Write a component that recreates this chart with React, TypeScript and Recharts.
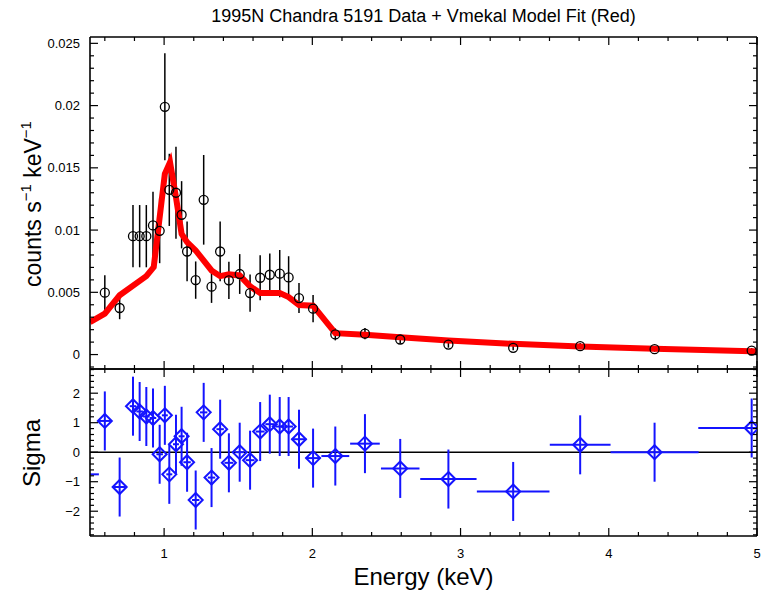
import {
  ComposedChart, Scatter, Line, XAxis, YAxis, ErrorBar, ReferenceLine,
} from 'recharts'

// binned spectrum (top panel)
const ENERGY = [
  0.6, 0.7, 0.79, 0.835, 0.88, 0.925, 0.97, 1.005, 1.035, 1.08, 1.118, 1.155,
  1.213, 1.267, 1.32, 1.378, 1.437, 1.51, 1.58, 1.648, 1.713, 1.78, 1.84, 1.91,
  2.005, 2.155, 2.355, 2.593, 2.918, 3.355, 3.807, 4.309, 4.964,
]
const RATE = [
  0.00497, 0.00374, 0.00951, 0.00951, 0.00951, 0.01037, 0.00994, 0.0199, 0.01323,
  0.0130, 0.01123, 0.00828, 0.00598, 0.01243, 0.00545, 0.00828, 0.00596, 0.00647,
  0.00494, 0.00617, 0.00641, 0.0065, 0.0062, 0.00454, 0.00369, 0.00162, 0.00168,
  0.00121, 0.0008, 0.00054, 0.00067, 0.00043, 0.00032,
]
const RATE_ERR = [
  0.0014, 0.0009, 0.0025, 0.0025, 0.0025, 0.0027, 0.0026, 0.0043, 0.0029, 0.0037,
  0.0027, 0.0024, 0.0015, 0.0036, 0.0013, 0.0024, 0.0015, 0.0016, 0.0015, 0.0018,
  0.0017, 0.0019, 0.0017, 0.0012, 0.0011, 0.00048, 0.00045, 0.00032, 0.00025,
  0.0002, 0.00025, 0.0002, 0.0002,
]

// vmekal model (red)
const MODEL_E = [
  0.5, 0.6, 0.7, 0.88, 0.93, 1.005, 1.04, 1.08, 1.118, 1.155, 1.213, 1.32, 1.378,
  1.437, 1.51, 1.58, 1.648, 1.78, 1.84, 1.91, 2.005, 2.155, 2.355, 2.593, 2.918,
  3.355, 3.807, 4.309, 4.964, 5.0,
]
const MODEL_RATE = [
  0.0026, 0.00329, 0.00476, 0.0063, 0.00703, 0.01452, 0.01545, 0.01264, 0.0097,
  0.00903, 0.00836, 0.00676, 0.0063, 0.00644, 0.00636, 0.00548, 0.00494, 0.00494,
  0.00462, 0.00398, 0.00393, 0.00172, 0.00159, 0.0014, 0.00113, 0.00086, 0.00064,
  0.00046, 0.00026, 0.00024,
]

// residuals (bottom panel); first bin sits just left of 0.5 keV
const SIGMA_E = [
  0.46, 0.6, 0.7, 0.79, 0.835, 0.88, 0.925, 0.97, 1.005, 1.035, 1.08, 1.118, 1.155,
  1.213, 1.267, 1.32, 1.378, 1.437, 1.51, 1.58, 1.648, 1.713, 1.78, 1.84, 1.91,
  2.005, 2.155, 2.355, 2.593, 2.918, 3.355, 3.807, 4.309, 4.964,
]
const SIGMA = [
  -0.75, 1.06, -1.18, 1.56, 1.38, 1.21, 1.16, -0.07, 1.25, -0.75, 0.27, 0.54, -0.34,
  -1.62, 1.35, -0.86, 0.78, -0.36, 0.0, -0.27, 0.7, 0.95, 0.87, 0.87, 0.44, -0.2,
  -0.13, 0.29, -0.55, -0.91, -1.33, 0.25, 0.0, 0.82,
]
const SIGMA_XERR = [
  0.1, 0.04, 0.04, 0.022, 0.022, 0.022, 0.022, 0.022, 0.02, 0.02, 0.02, 0.02, 0.025,
  0.025, 0.025, 0.025, 0.025, 0.03, 0.03, 0.03, 0.03, 0.03, 0.03, 0.03, 0.05, 0.05,
  0.094, 0.1, 0.13, 0.19, 0.245, 0.205, 0.297, 0.36,
]

const X_MAJOR = [1, 2, 3, 4, 5]
const RATE_MAJOR = [0, 0.005, 0.01, 0.015, 0.02, 0.025]
const SIGMA_MAJOR = [-2, -1, 0, 1, 2]

const X_DOMAIN: [number, number] = [0.5, 5]
const RATE_DOMAIN: [number, number] = [-0.00116, 0.02551]
const SIGMA_DOMAIN: [number, number] = [-2.84, 2.82]

const FONT = '"Liberation Sans", Arial, Helvetica, sans-serif'
const RED = '#ff0000'
const BLUE = '#1414ff'

const steps = (from: number, to: number, step: number) => {
  const out: number[] = []
  for (let i = 0; from + i * step <= to + step / 2; i++) out.push(Math.round((from + i * step) * 1e6) / 1e6)
  return out
}
const X_TICKS = steps(0.6, 5, 0.2)
const RATE_TICKS = steps(-0.001, 0.025, 0.001)
const SIGMA_TICKS = steps(-2.8, 2.8, 0.2)

const fmt = (v: number) => (v < 0 ? '\u2212' + String(-v) : String(v))

type Side = 'left' | 'right' | 'top' | 'bottom'

// IDL-style inward ticks, labels only on left / bottom
function axisTick(side: Side, majors: number[], showLabel: boolean) {
  return (props: any) => {
    const { x, y, payload } = props
    const v = payload.value as number
    const major = majors.find(m => Math.abs(m - v) < 1e-9)
    const len = major !== undefined ? 8 : 4
    let x2 = x
    let y2 = y
    if (side === 'left') x2 = x + len
    if (side === 'right') x2 = x - len
    if (side === 'top') y2 = y + len
    if (side === 'bottom') y2 = y - len
    const label = showLabel && major !== undefined ? fmt(major) : null
    return (
      <g>
        <line x1={x} y1={y} x2={x2} y2={y2} stroke="#000" strokeWidth={1.2} />
        {label && side === 'left' && (
          <text x={x - 10} y={y} textAnchor="end" dominantBaseline="central"
            fontFamily={FONT} fontSize={13} fill="#000">{label}</text>
        )}
        {label && side === 'bottom' && (
          <text x={x} y={y + 22} textAnchor="middle"
            fontFamily={FONT} fontSize={13} fill="#000">{label}</text>
        )}
      </g>
    )
  }
}

// marks outside the energy range are left undrawn (plot is clipped at 0.5 keV)
const inRange = (p: any) => p.payload && p.payload.x >= X_DOMAIN[0] && p.payload.x <= X_DOMAIN[1]

const circle = (p: any) => (inRange(p)
  ? <circle cx={p.cx} cy={p.cy} r={4.5} fill="none" stroke="#000" strokeWidth={1.3} />
  : <g />)
const diamond = (p: any) => (inRange(p)
  ? <path d={`M${p.cx},${p.cy - 7}L${p.cx + 7},${p.cy}L${p.cx},${p.cy + 7}L${p.cx - 7},${p.cy}Z`}
    fill="none" stroke={BLUE} strokeWidth={2} />
  : <g />)

const axisLine = { stroke: '#000', strokeWidth: 1.6 }
const common = { tickSize: 0, tickMargin: 0, tickLine: false, interval: 0 as const, axisLine }

// keep x error bars inside [0.5, 5]
const clipErr = (x: number, e: number): [number, number] => [
  Math.min(e, x - X_DOMAIN[0]), Math.min(e, X_DOMAIN[1] - x),
]

export default function App() {
  const rateData = ENERGY.map((x, i) => ({ x, y: RATE[i], err: RATE_ERR[i] }))
  const modelData = MODEL_E.map((x, i) => ({ x, y: MODEL_RATE[i] }))
  const sigmaData = SIGMA_E.map((x, i) => ({
    x, y: SIGMA[i],
    err: x < X_DOMAIN[0] ? 0 : 1,
    xerr: clipErr(x, SIGMA_XERR[i]),
  }))

  return (
    <div style={{ position: 'absolute', left: 0, top: 0, width: 764, height: 592, background: '#fff', fontFamily: FONT }}>
      <div style={{ position: 'absolute', left: 90, top: 6, width: 667, textAlign: 'center', fontSize: 18, lineHeight: '21px' }}>
        1995N Chandra 5191 Data + Vmekal Model Fit (Red)
      </div>

      <div style={{ position: 'absolute', left: 0, top: 0 }}>
        <ComposedChart width={764} height={379} margin={{ top: 36, right: 6, bottom: 9, left: 0 }}>
          <XAxis xAxisId="b" dataKey="x" type="number" domain={X_DOMAIN} allowDataOverflow
            ticks={X_TICKS} height={1} {...common} tick={axisTick('bottom', X_MAJOR, false)} />
          <XAxis xAxisId="t" orientation="top" dataKey="x" type="number" domain={X_DOMAIN} allowDataOverflow
            ticks={X_TICKS} height={1} {...common} tick={axisTick('top', X_MAJOR, false)} />
          <YAxis yAxisId="l" type="number" domain={RATE_DOMAIN} allowDataOverflow
            ticks={RATE_TICKS} width={90} {...common} tick={axisTick('left', RATE_MAJOR, true)} />
          <YAxis yAxisId="r" orientation="right" type="number" domain={RATE_DOMAIN} allowDataOverflow
            ticks={RATE_TICKS} width={1} {...common} tick={axisTick('right', RATE_MAJOR, false)} />
          <Scatter xAxisId="b" yAxisId="l" data={rateData} dataKey="y" shape={circle} isAnimationActive={false}>
            <ErrorBar dataKey="err" direction="y" width={0} stroke="#000" strokeWidth={1.5} isAnimationActive={false} />
          </Scatter>
          <Line xAxisId="b" yAxisId="l" data={modelData} dataKey="y" stroke={RED} strokeWidth={6}
            dot={false} activeDot={false} isAnimationActive={false} />
        </ComposedChart>
      </div>

      <div style={{ position: 'absolute', left: 0, top: 359 }}>
        <ComposedChart width={764} height={233} margin={{ top: 9, right: 6, bottom: 55, left: 0 }}>
          <XAxis xAxisId="b" dataKey="x" type="number" domain={X_DOMAIN} allowDataOverflow
            ticks={X_TICKS} height={1} {...common} tick={axisTick('bottom', X_MAJOR, true)} />
          <XAxis xAxisId="t" orientation="top" dataKey="x" type="number" domain={X_DOMAIN} allowDataOverflow
            ticks={X_TICKS} height={1} {...common} tick={axisTick('top', X_MAJOR, false)} />
          <YAxis yAxisId="l" type="number" domain={SIGMA_DOMAIN} allowDataOverflow
            ticks={SIGMA_TICKS} width={90} {...common} tick={axisTick('left', SIGMA_MAJOR, true)} />
          <YAxis yAxisId="r" orientation="right" type="number" domain={SIGMA_DOMAIN} allowDataOverflow
            ticks={SIGMA_TICKS} width={1} {...common} tick={axisTick('right', SIGMA_MAJOR, false)} />
          <ReferenceLine xAxisId="b" yAxisId="l" y={0} stroke="#000" strokeWidth={1.5} />
          <Scatter xAxisId="b" yAxisId="l" data={sigmaData} dataKey="y" shape={diamond} isAnimationActive={false}>
            <ErrorBar dataKey="err" direction="y" width={0} stroke={BLUE} strokeWidth={2} isAnimationActive={false} />
            <ErrorBar dataKey="xerr" direction="x" width={0} stroke={BLUE} strokeWidth={2} isAnimationActive={false} />
          </Scatter>
        </ComposedChart>
      </div>

      <div style={{
        position: 'absolute', left: 34, top: 204, transform: 'translate(-50%, -50%) rotate(-90deg)',
        fontSize: 23, whiteSpace: 'nowrap', lineHeight: '26px',
      }}>
        counts s<span style={{ fontSize: 15, position: 'relative', top: -10 }}>{'\u2212'}1</span> keV
        <span style={{ fontSize: 15, position: 'relative', top: -10 }}>{'\u2212'}1</span>
      </div>
      <div style={{
        position: 'absolute', left: 32, top: 453, transform: 'translate(-50%, -50%) rotate(-90deg)',
        fontSize: 24, whiteSpace: 'nowrap', lineHeight: '28px',
      }}>
        Sigma
      </div>
      <div style={{ position: 'absolute', left: 90, top: 563, width: 667, textAlign: 'center', fontSize: 24, lineHeight: '28px' }}>
        Energy (keV)
      </div>
    </div>
  )
}
